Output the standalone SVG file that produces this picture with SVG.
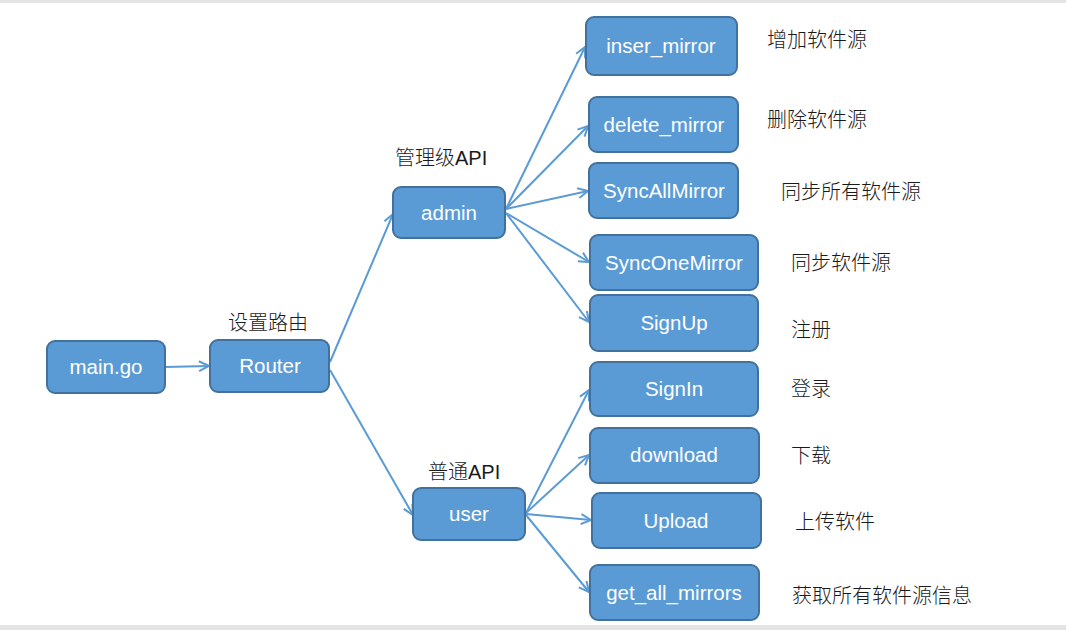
<svg xmlns="http://www.w3.org/2000/svg" width="1066" height="630" viewBox="0 0 1066 630">
<style>
.node rect{fill:#5b9bd5;stroke:#41719c;stroke-width:2}
.node text{fill:#ffffff;font-family:"Liberation Sans",Arial,sans-serif;font-size:20.5px;text-anchor:middle}
.lbl{fill:#1a1a1a;font-family:"Liberation Sans","Noto Sans CJK SC",sans-serif;font-size:20px;font-weight:300}
.conn line{stroke:#5b9bd5;stroke-width:2;fill:none;marker-end:url(#arr)}
</style>
<defs>
<marker id="arr" markerUnits="userSpaceOnUse" markerWidth="14" markerHeight="14" viewBox="0 0 14 14" refX="12" refY="7" orient="auto">
<path d="M2,2 L12,7 L2,12" fill="none" stroke="#5b9bd5" stroke-width="2"/>
</marker>
</defs>
<rect x="0" y="0" width="1066" height="630" fill="#ffffff"/>
<rect x="0" y="0" width="1066" height="3" fill="#e4e4e4"/>
<rect x="0" y="625" width="1066" height="5" fill="#e4e4e4"/>

<g class="conn">
<line x1="165" y1="367" x2="209" y2="366"/>
<line x1="330" y1="362" x2="393" y2="214"/>
<line x1="330" y1="370" x2="413" y2="515"/>
<line x1="506" y1="209" x2="585" y2="47"/>
<line x1="506" y1="209" x2="588" y2="126"/>
<line x1="506" y1="209" x2="588" y2="191"/>
<line x1="506" y1="213" x2="589" y2="262"/>
<line x1="506" y1="213" x2="589" y2="322"/>
<line x1="526" y1="513" x2="589" y2="390"/>
<line x1="526" y1="513" x2="589" y2="455"/>
<line x1="526" y1="514" x2="591" y2="520"/>
<line x1="526" y1="515" x2="589" y2="592"/>
</g>

<g id="main" class="node"><rect x="47" y="341" width="118" height="52" rx="8"/><text x="106" y="374">main.go</text></g>
<g id="router" class="node"><rect x="210" y="340" width="119" height="52" rx="8"/><text x="270" y="373">Router</text></g>
<g id="admin" class="node"><rect x="393" y="187" width="112" height="51" rx="8"/><text x="449" y="220">admin</text></g>
<g id="user" class="node"><rect x="413" y="488" width="112" height="52" rx="8"/><text x="469" y="521">user</text></g>
<g id="inser_mirror" class="node"><rect x="586" y="17" width="151" height="58" rx="8"/><text x="661" y="53">inser_mirror</text></g>
<g id="delete_mirror" class="node"><rect x="589" y="97" width="149" height="55" rx="8"/><text x="664" y="132">delete_mirror</text></g>
<g id="SyncAllMirror" class="node"><rect x="589" y="163" width="149" height="55" rx="8"/><text x="664" y="198">SyncAllMirror</text></g>
<g id="SyncOneMirror" class="node"><rect x="590" y="235" width="168" height="55" rx="8"/><text x="674" y="270">SyncOneMirror</text></g>
<g id="SignUp" class="node"><rect x="590" y="295" width="168" height="56" rx="8"/><text x="674" y="330">SignUp</text></g>
<g id="SignIn" class="node"><rect x="590" y="362" width="168" height="54" rx="8"/><text x="674" y="396">SignIn</text></g>
<g id="download" class="node"><rect x="590" y="428" width="169" height="55" rx="8"/><text x="674" y="462">download</text></g>
<g id="Upload" class="node"><rect x="592" y="493" width="169" height="55" rx="8"/><text x="676" y="528">Upload</text></g>
<g id="get_all_mirrors" class="node"><rect x="590" y="565" width="169" height="55" rx="8"/><text x="674" y="600">get_all_mirrors</text></g>

<g id="labels">
<text class="lbl" x="228" y="330">设置路由</text>
<text class="lbl" x="395" y="165">管理级API</text>
<text class="lbl" x="428" y="479">普通API</text>
<text class="lbl" x="767" y="47">增加软件源</text>
<text class="lbl" x="767" y="127">删除软件源</text>
<text class="lbl" x="781" y="199">同步所有软件源</text>
<text class="lbl" x="791" y="270">同步软件源</text>
<text class="lbl" x="791" y="337">注册</text>
<text class="lbl" x="791" y="396">登录</text>
<text class="lbl" x="791" y="463">下载</text>
<text class="lbl" x="795" y="529">上传软件</text>
<text class="lbl" x="792" y="603">获取所有软件源信息</text>
</g>
</svg>
